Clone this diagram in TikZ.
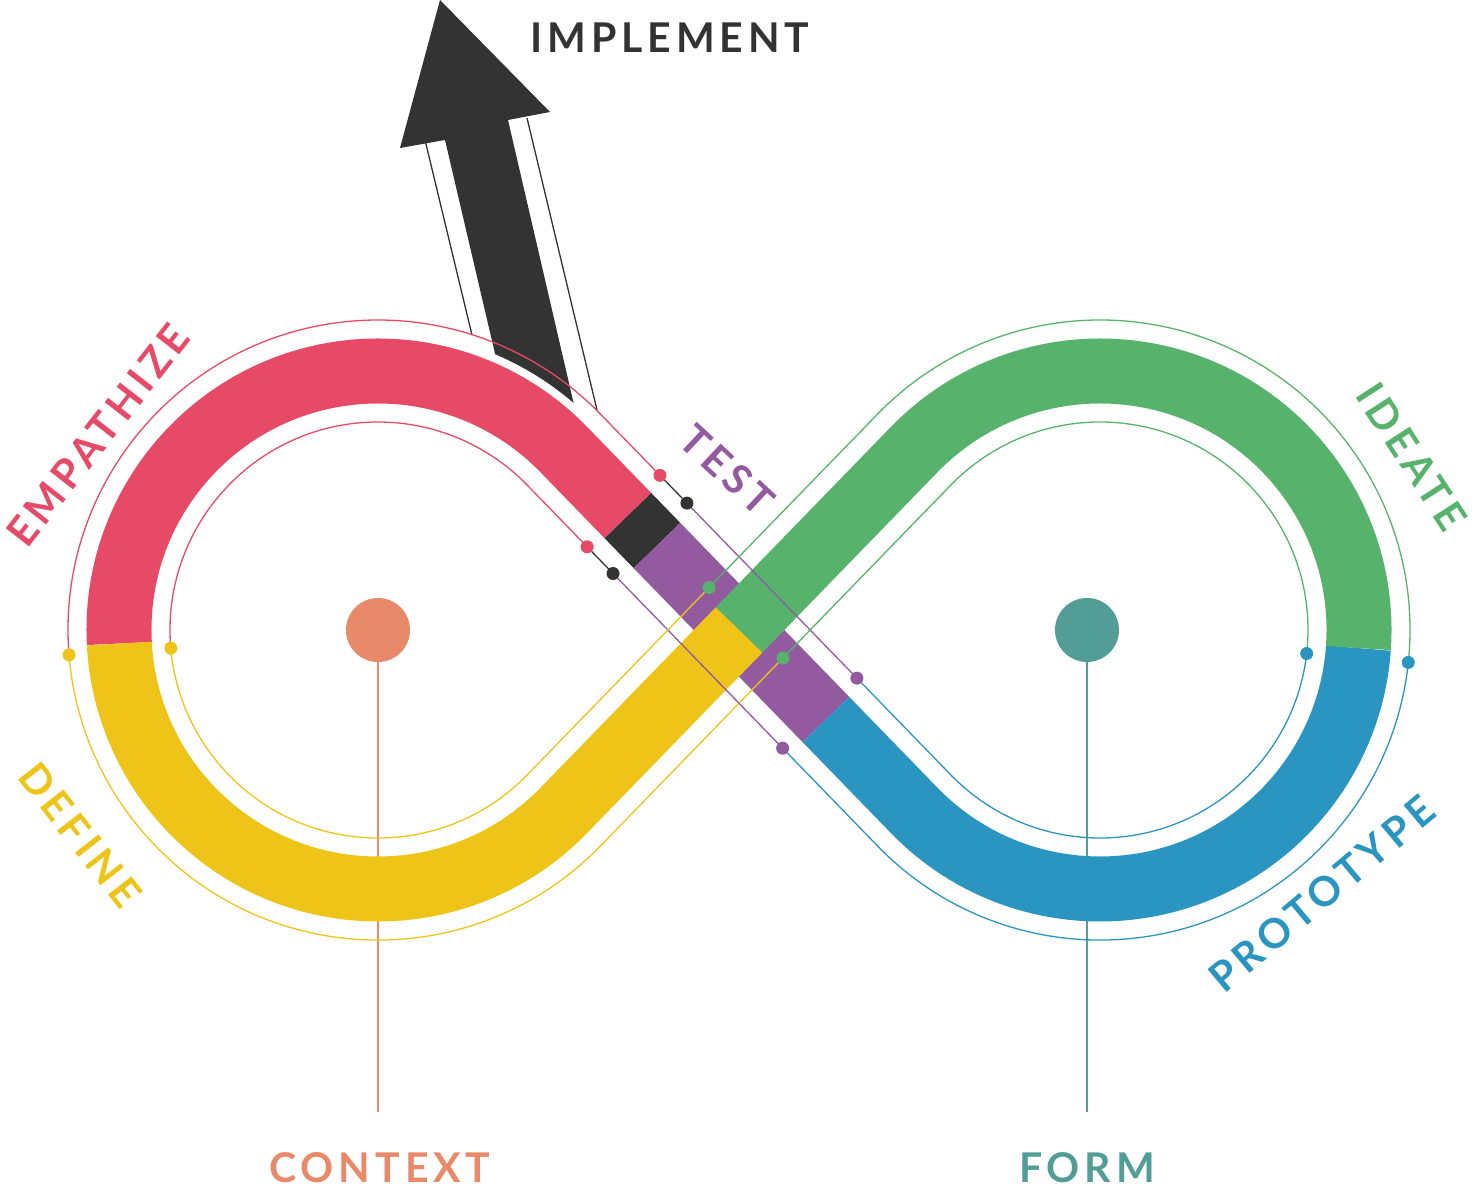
\documentclass[tikz,border=0pt]{standalone}
\usepackage{fontspec}
\setmainfont{Lato}[LetterSpace=12]
\usetikzlibrary{calc}
\definecolor{cpink}{HTML}{E64A67}
\definecolor{cyel}{HTML}{EEC418}
\definecolor{cgreen}{HTML}{57B36C}
\definecolor{cblue}{HTML}{2B95C1}
\definecolor{cpurp}{HTML}{935A9F}
\definecolor{cdark}{HTML}{333333}
\definecolor{corange}{HTML}{E8896A}
\definecolor{cteal}{HTML}{529E96}
\begin{document}
\begin{tikzpicture}[x=1pt,y=1pt,
  band/.style={line width=65pt},
  thin/.style={line width=1.3pt},
  dot/.style={circle,fill,inner sep=0pt,minimum size=13pt},
  lbl/.style={font=\fontsize{41}{41}\selectfont\bfseries}]
\useasboundingbox (0,0) rectangle (1476,1197);
\coordinate (L) at (378,567);
\coordinate (R) at (1100,567);
\coordinate (DC1) at (563.8,747.4); \coordinate (DC2) at (914.2,386.6);
\coordinate (AC1) at (563.8,386.6); \coordinate (AC2) at (914.2,747.4);
\coordinate (DUR1) at (600.4,783.0); \coordinate (DUR2) at (950.8,422.1);
\coordinate (DLL1) at (527.2,711.9); \coordinate (DLL2) at (877.6,351.0);
\coordinate (AUL1) at (527.2,422.1); \coordinate (AUL2) at (877.6,783.0);
\coordinate (ALR1) at (600.4,351.0); \coordinate (ALR2) at (950.8,711.9);
\coordinate (P1) at ($(DUR1)!0.170!(DUR2)$);
\coordinate (K1) at ($(DUR1)!0.247!(DUR2)$);
\coordinate (U1) at ($(DUR1)!0.732!(DUR2)$);
\coordinate (P2) at ($(DLL1)!0.171!(DLL2)$);
\coordinate (K2) at ($(DLL1)!0.245!(DLL2)$);
\coordinate (U2) at ($(DLL1)!0.729!(DLL2)$);
\coordinate (G1) at ($(AUL1)!0.519!(AUL2)$);
\coordinate (G2) at ($(ALR1)!0.521!(ALR2)$);
\coordinate (Y1) at ($(L)+(184.6:310)$);
\coordinate (Y2) at ($(L)+(185:208)$);
\coordinate (B1) at ($(R)+(-6.5:208)$);
\coordinate (B2) at ($(R)+(-6:310)$);
% center stems
\draw[corange,thin] (378,567) -- (378,85);
\draw[cteal,thin] (1087,567) -- (1087,85);
\node[dot,fill=corange,minimum size=64pt] (cl) at (378,567) {};
\node[dot,fill=cteal,minimum size=64pt] (cr) at (1087,567) {};
% arrow
\draw[cdark,thin] (425,1057) -- (472,862);
\draw[cdark,thin] (527,1079) -- (597,787);
\fill[cdark] (500,822) -- (445,1057) -- (400,1049) -- (440,1197) -- (550,1085) -- (508,1077) -- (578,775) -- cycle;
% white halo near arrow
\draw[white,line width=81pt] ($(L)+(110:259)$) arc[start angle=110,end angle=44.15,radius=259] -- ($(DC1)!0.3!(DC2)$);
% bands
\draw[band,cpink] ($(L)+(183:259)$) arc[start angle=183,end angle=44.15,radius=259] -- ($(DC1)!0.183!(DC2)$);
\draw[band,cdark] ($(DC1)!0.183!(DC2)$) -- ($(DC1)!0.266!(DC2)$);
\draw[band,cpurp] ($(DC1)!0.266!(DC2)$) -- ($(DC1)!0.748!(DC2)$);
\draw[band,cblue] ($(DC1)!0.748!(DC2)$) -- (DC2) arc[start angle=-135.85,end angle=-4,radius=259];
\draw[band,cgreen] ($(R)+(-4:259)$) arc[start angle=-4,end angle=135.85,radius=259] -- ($(AC1)!0.5!(AC2)$);
\draw[band,cyel] ($(AC1)!0.5!(AC2)$) -- (AC1) arc[start angle=-44.15,end angle=-177,radius=259];
% thin path A
\draw[thin,cpink] (Y1) arc[start angle=184.6,end angle=44.15,radius=310] -- (P1);
\draw[thin,cdark] (P1) -- (K1);
\draw[thin,cpurp] (K1) -- (U1);
\draw[thin,cblue] (U1) -- (DUR2) arc[start angle=-135.85,end angle=-6.5,radius=208];
\draw[thin,cgreen] (B1) arc[start angle=-6.5,end angle=135.85,radius=208] -- (G2);
\draw[thin,cyel] (G2) -- (ALR1) arc[start angle=-44.15,end angle=-175.4,radius=310];
% thin path B
\draw[thin,cpink] (Y2) arc[start angle=185,end angle=44.15,radius=208] -- (P2);
\draw[thin,cdark] (P2) -- (K2);
\draw[thin,cpurp] (K2) -- (U2);
\draw[thin,cblue] (U2) -- (DLL2) arc[start angle=-135.85,end angle=-6,radius=310];
\draw[thin,cgreen] (B2) arc[start angle=-6,end angle=135.85,radius=310] -- (G1);
\draw[thin,cyel] (G1) -- (AUL1) arc[start angle=-44.15,end angle=-175,radius=208];
% dots
\node[dot,fill=cyel] (dy1) at (Y1) {};
\node[dot,fill=cyel] (dy2) at (Y2) {};
\node[dot,fill=cpink] (dp1) at (P1) {};
\node[dot,fill=cpink] (dp2) at (P2) {};
\node[dot,fill=cdark] (dk1) at (K1) {};
\node[dot,fill=cdark] (dk2) at (K2) {};
\node[dot,fill=cpurp] (du1) at (U1) {};
\node[dot,fill=cpurp] (du2) at (U2) {};
\node[dot,fill=cgreen] (dg1) at (G1) {};
\node[dot,fill=cgreen] (dg2) at (G2) {};
\node[dot,fill=cblue] (db1) at (B1) {};
\node[dot,fill=cblue] (db2) at (B2) {};
% labels
\node[lbl,cdark] (timp) at (670,1159) {IMPLEMENT};
\node[lbl,corange] (tctx) at (380,29) {CONTEXT};
\node[lbl,cteal] (tform) at (1087,29) {FORM};
\node[lbl,cpink,rotate=52] (temp) at (98,762) {EMPATHIZE};
\node[lbl,cyel,rotate=-52] (tdef) at (80,362) {DEFINE};
\node[lbl,cgreen,rotate=-57] (tide) at (1412,740) {IDEATE};
\node[lbl,cblue,rotate=40] (tpro) at (1322,303) {PROTOTYPE};
\node[lbl,cpurp,rotate=-43] (ttest) at (727,727) {TEST};
\end{tikzpicture}
\end{document}
